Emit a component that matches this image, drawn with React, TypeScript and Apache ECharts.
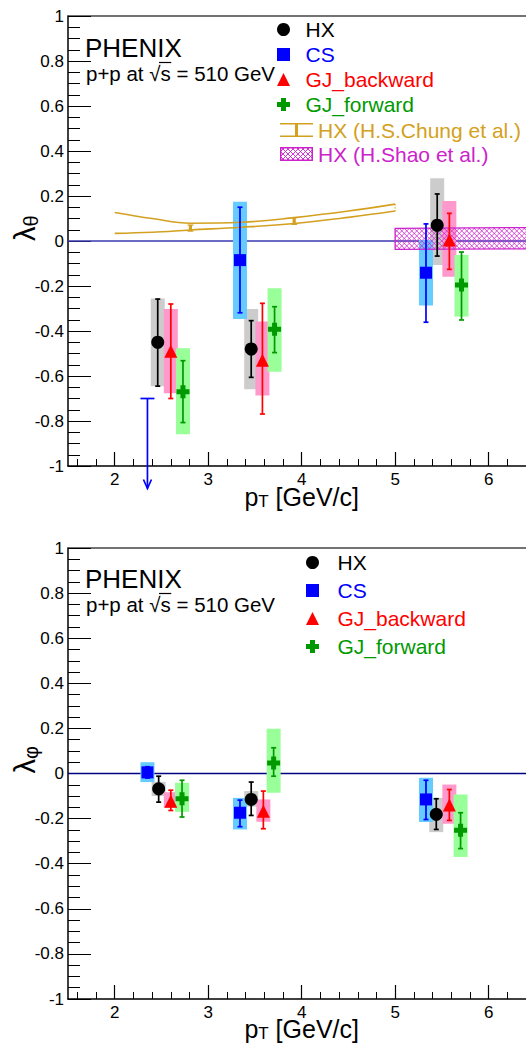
import React, { useEffect, useRef } from 'react';
import * as echarts from 'echarts';

// ---------- axis ranges ----------
const X_MIN = 1.5;
const X_MAX = 6.5;
const Y_MIN = -1;
const Y_MAX = 1;

// ---------- λθ panel (top) ----------
const thHX_x = [2.46, 3.46, 5.45];
const thHX_val = [-0.45, -0.48, 0.07];
const thHX_statLo = [-0.645, -0.606, -0.067];
const thHX_statHi = [-0.258, -0.354, 0.209];
const thHX_sysLo = [-0.645, -0.659, -0.107];
const thHX_sysHi = [-0.255, -0.302, 0.279];

const thCS_x = [3.34, 5.33];
const thCS_val = [-0.085, -0.141];
const thCS_statLo = [-0.319, -0.361];
const thCS_statHi = [0.15, 0.076];
const thCS_sysLo = [-0.347, -0.287];
const thCS_sysHi = [0.175, 0.005];
const thCS_limX = [2.35];
const thCS_limVal = [-0.7];
const thCS_limTip = [-1.1];

const thGJB_x = [2.6, 3.58, 5.58];
const thGJB_val = [-0.49, -0.53, 0.004];
const thGJB_statLo = [-0.7, -0.769, -0.126];
const thGJB_statHi = [-0.28, -0.277, 0.123];
const thGJB_sysLo = [-0.677, -0.687, -0.159];
const thGJB_sysHi = [-0.302, -0.358, 0.178];

const thGJF_x = [2.73, 3.71, 5.71];
const thGJF_val = [-0.67, -0.392, -0.196];
const thGJF_statLo = [-0.807, -0.496, -0.351];
const thGJF_statHi = [-0.532, -0.292, -0.049];
const thGJF_sysLo = [-0.859, -0.581, -0.336];
const thGJF_sysHi = [-0.477, -0.21, -0.062];

// H.S.Chung et al. band
const chungX = [2.0, 2.4, 2.81, 3.35, 3.92, 4.5, 5.0];
const chungHi = [0.127, 0.1, 0.079, 0.083, 0.104, 0.133, 0.164];
const chungLo = [0.034, 0.039, 0.049, 0.061, 0.078, 0.105, 0.133];
const chungBarX = [2.81, 3.92];
const chungBarLo = [0.044, 0.074];
const chungBarHi = [0.071, 0.104];

// H.Shao et al. band
const shaoX = [5.0, 6.5];
const shaoLo = [-0.037, -0.035];
const shaoHi = [0.056, 0.06];

// ---------- λφ panel (bottom) ----------
const phHX_x = [2.47, 3.46, 5.44];
const phHX_val = [-0.068, -0.115, -0.181];
const phHX_statLo = [-0.127, -0.186, -0.248];
const phHX_statHi = [-0.012, -0.038, -0.112];
const phHX_sysLo = [-0.1, -0.147, -0.26];
const phHX_sysHi = [-0.037, -0.078, -0.108];

const phCS_x = [2.35, 3.34, 5.33];
const phCS_val = [0.005, -0.174, -0.115];
const phCS_statLo = [-0.02, -0.236, -0.204];
const phCS_statHi = [0.03, -0.118, -0.03];
const phCS_sysLo = [-0.038, -0.248, -0.215];
const phCS_sysHi = [0.05, -0.108, -0.019];

const phGJB_x = [2.6, 3.59, 5.58];
const phGJB_val = [-0.123, -0.167, -0.14];
const phGJB_statLo = [-0.164, -0.245, -0.208];
const phGJB_statHi = [-0.074, -0.078, -0.071];
const phGJB_sysLo = [-0.152, -0.214, -0.223];
const phGJB_sysHi = [-0.083, -0.115, -0.049];

const phGJF_x = [2.72, 3.7, 5.7];
const phGJF_val = [-0.112, 0.047, -0.252];
const phGJF_statLo = [-0.193, -0.012, -0.333];
const phGJF_statHi = [-0.03, 0.114, -0.174];
const phGJF_sysLo = [-0.17, -0.085, -0.37];
const phGJF_sysHi = [-0.041, 0.199, -0.093];

// ---------- styles ----------
const FONT = 'Liberation Sans, Arial, Helvetica, sans-serif';
const C_HX = '#000000';
const C_CS = '#0000ff';
const C_GJB = '#ff0000';
const C_GJF = '#009900';
const B_HX = '#cccccc';
const B_CS = '#66ccff';
const B_GJB = '#ff99cc';
const B_GJF = '#99ff99';
const C_CHUNG = '#d4a020';
const C_SHAO = '#cc22cc';
const SQUARE = 'path://M0,0H12V12H0Z';
const TRIANGLE = 'path://M6,0L12,12H0Z';
const CROSS = 'path://M4,0H9V4H13V9H9V13H4V9H0V4H4Z';
const BOX_HALF_PX = 7;

const zip3 = (a: number[], b: number[], c: number[]) => a.map((v, i) => [v, b[i], c[i]]);
const zip2 = (a: number[], b: number[]) => a.map((v, i) => [v, b[i]]);

function boxSeries(name: string, xi: number, x: number[], lo: number[], hi: number[], color: string) {
  return {
    type: 'custom', name, xAxisIndex: xi, yAxisIndex: xi === 0 ? 0 : 2, z: 2,
    data: zip3(x, lo, hi),
    encode: { x: 0, y: [1, 2] },
    renderItem: (params: any, api: any) => {
      const a = api.coord([api.value(0), api.value(2)]);
      const b = api.coord([api.value(0), api.value(1)]);
      return {
        type: 'rect',
        shape: { x: a[0] - BOX_HALF_PX, y: a[1], width: BOX_HALF_PX * 2, height: b[1] - a[1] },
        style: { fill: color },
      };
    },
  };
}

function errSeries(name: string, xi: number, x: number[], lo: number[], hi: number[], color: string) {
  return {
    type: 'custom', name, xAxisIndex: xi, yAxisIndex: xi === 0 ? 0 : 2, z: 4,
    data: zip3(x, lo, hi),
    encode: { x: 0, y: [1, 2] },
    renderItem: (params: any, api: any) => {
      const a = api.coord([api.value(0), api.value(2)]);
      const b = api.coord([api.value(0), api.value(1)]);
      const st = { stroke: color, lineWidth: 1.7 };
      return {
        type: 'group',
        children: [
          { type: 'line', shape: { x1: a[0], y1: a[1], x2: b[0], y2: b[1] }, style: st },
          { type: 'line', shape: { x1: a[0] - 2.5, y1: a[1], x2: a[0] + 2.5, y2: a[1] }, style: st },
          { type: 'line', shape: { x1: b[0] - 2.5, y1: b[1], x2: b[0] + 2.5, y2: b[1] }, style: st },
        ],
      };
    },
  };
}

function markerSeries(name: string, xi: number, x: number[], v: number[], color: string, symbol: string, size: number) {
  return {
    type: 'scatter', name, xAxisIndex: xi, yAxisIndex: xi === 0 ? 0 : 2, z: 5,
    symbol, symbolSize: size, symbolKeepAspect: true,
    itemStyle: { color, opacity: 1 },
    data: zip2(x, v),
  };
}

function zeroSeries(xi: number, color: string) {
  return {
    type: 'line', name: 'zero' + xi, xAxisIndex: xi, yAxisIndex: xi === 0 ? 0 : 2, z: 1,
    showSymbol: false, silent: true,
    lineStyle: { color, width: 1.3 },
    data: [[X_MIN, 0], [X_MAX, 0]],
  };
}

// clip a segment to a convex polygon (Cyrus-Beck)
function clipSeg(p0: number[], p1: number[], poly: number[][]) {
  let t0 = 0, t1 = 1;
  const cx = poly.reduce((s, p) => s + p[0], 0) / poly.length;
  const cy = poly.reduce((s, p) => s + p[1], 0) / poly.length;
  const dx = p1[0] - p0[0], dy = p1[1] - p0[1];
  for (let i = 0; i < poly.length; i++) {
    const a = poly[i], b = poly[(i + 1) % poly.length];
    let nx = -(b[1] - a[1]), ny = b[0] - a[0];
    if (nx * (cx - a[0]) + ny * (cy - a[1]) < 0) { nx = -nx; ny = -ny; }
    const num = nx * (p0[0] - a[0]) + ny * (p0[1] - a[1]);
    const den = nx * dx + ny * dy;
    if (Math.abs(den) < 1e-9) { if (num < 0) return null; continue; }
    const t = -num / den;
    if (den > 0) t0 = Math.max(t0, t); else t1 = Math.min(t1, t);
    if (t0 > t1) return null;
  }
  return [p0[0] + t0 * dx, p0[1] + t0 * dy, p0[0] + t1 * dx, p0[1] + t1 * dy];
}

function makeHatchIcon(w: number, h: number, color: string) {
  const c = document.createElement('canvas');
  c.width = w; c.height = h;
  const g = c.getContext('2d');
  if (!g) return '';
  g.strokeStyle = color; g.lineWidth = 0.9;
  for (let k = -h; k < w + h; k += 5) {
    g.beginPath(); g.moveTo(k, 0); g.lineTo(k + h, h); g.stroke();
    g.beginPath(); g.moveTo(k + h, 0); g.lineTo(k, h); g.stroke();
  }
  g.lineWidth = 1.5;
  g.strokeRect(0.75, 0.75, w - 1.5, h - 1.5);
  return c.toDataURL();
}

function measure(text: string, size: number) {
  const c = document.createElement('canvas');
  const g = c.getContext('2d');
  if (!g) return text.length * size * 0.5;
  g.font = `${size}px ${FONT}`;
  return g.measureText(text).width;
}

function buildOption() {
  const hatchIcon = makeHatchIcon(33, 14, C_SHAO);
  const gridW = 467.35;
  const pxPerUnit = gridW / (X_MAX - X_MIN);
  const tickGridLeft = 68 + 0.1 * pxPerUnit;
  const tickGridW = 4.8 * pxPerUnit;

  const xName = '{a|p}{b|T}{a| [GeV/c]}';
  const xNameStyle = {
    color: '#000', fontFamily: FONT,
    rich: {
      a: { fontSize: 25, lineHeight: 26, fontFamily: FONT, color: '#000' },
      b: { fontSize: 17, fontFamily: FONT, color: '#000', verticalAlign: 'bottom' },
    },
  };
  const yNameStyle = {
    color: '#000', fontFamily: FONT, align: 'left',
    rich: {
      a: { fontSize: 29, lineHeight: 32, fontFamily: FONT, color: '#000' },
      b: { fontSize: 20, fontFamily: FONT, color: '#000', verticalAlign: 'bottom' },
    },
  };

  const mainX = (gridIndex: number, gap: number) => ({
    type: 'value', gridIndex, min: X_MIN, max: X_MAX, position: 'bottom',
    name: xName, nameLocation: 'middle', nameGap: gap, nameMoveOverlap: false, nameTextStyle: xNameStyle,
    axisLine: { show: true, onZero: false, lineStyle: { color: '#000', width: 1.5 } },
    axisTick: { show: true, inside: true, length: 14, lineStyle: { color: '#000', width: 1.2 } },
    axisLabel: { show: true, color: '#000', fontSize: 17, margin: 5, fontFamily: FONT, showMinLabel: false, showMaxLabel: false },
    splitLine: { show: false },
  });
  const frameX = (gridIndex: number) => ({
    type: 'value', gridIndex, min: X_MIN, max: X_MAX, position: 'top',
    axisLine: { show: true, onZero: false, lineStyle: { color: '#444', width: 1.5 } },
    axisTick: { show: false }, axisLabel: { show: false }, splitLine: { show: false },
  });
  const minorX = (gridIndex: number) => ({
    type: 'value', gridIndex, min: 1.6, max: 6.4, interval: 0.2, position: 'bottom',
    axisLine: { show: false, onZero: false },
    axisTick: { show: true, inside: true, length: 7, lineStyle: { color: '#000', width: 1 } },
    axisLabel: { show: false }, splitLine: { show: false },
  });
  const mainY = (gridIndex: number, sub: string) => ({
    type: 'value', gridIndex, min: Y_MIN, max: Y_MAX, interval: 0.2,
    name: `{a|\u03BB}{b|${sub}}`, nameLocation: 'middle', nameRotate: 90, nameGap: 27, nameMoveOverlap: false,
    nameTextStyle: yNameStyle,
    axisLine: { show: true, onZero: false, lineStyle: { color: '#000', width: 1.5 } },
    axisTick: { show: true, inside: true, length: 23, lineStyle: { color: '#000', width: 1 } },
    minorTick: { show: true, splitNumber: 4, length: 12, lineStyle: { color: '#000', width: 1 } },
    axisLabel: { show: true, color: '#000', fontSize: 17, margin: 4, fontFamily: FONT },
    splitLine: { show: false }, minorSplitLine: { show: false },
  });
  const hiddenY = (gridIndex: number) => ({ type: 'value', gridIndex, min: Y_MIN, max: Y_MAX, show: false });

  const series: any[] = [
    // ---- top ----
    zeroSeries(0, '#3838b0'),
    boxSeries('HX sys', 0, thHX_x, thHX_sysLo, thHX_sysHi, B_HX),
    boxSeries('CS sys', 0, thCS_x, thCS_sysLo, thCS_sysHi, B_CS),
    boxSeries('GJ_backward sys', 0, thGJB_x, thGJB_sysLo, thGJB_sysHi, B_GJB),
    boxSeries('GJ_forward sys', 0, thGJF_x, thGJF_sysLo, thGJF_sysHi, B_GJF),
    {
      type: 'custom', name: 'HX (H.Shao et al.)', xAxisIndex: 0, yAxisIndex: 0, z: 3,
      data: [[shaoX[0], shaoX[1], shaoLo[0], shaoHi[0], shaoLo[1], shaoHi[1]]],
      encode: { x: [0, 1], y: [2, 3, 4, 5] },
      renderItem: (params: any, api: any) => {
        const x0 = api.value(0), x1 = api.value(1);
        const poly = [
          api.coord([x0, api.value(3)]), api.coord([x1, api.value(5)]),
          api.coord([x1, api.value(4)]), api.coord([x0, api.value(2)]),
        ];
        const xs = poly.map((p) => p[0]), ys = poly.map((p) => p[1]);
        const minX = Math.min(...xs), maxX = Math.max(...xs), minY = Math.min(...ys), maxY = Math.max(...ys);
        const children: any[] = [];
        const hs = { stroke: C_SHAO, lineWidth: 0.8 };
        const H = maxY - minY;
        for (let k = minX - H; k < maxX + H; k += 5) {
          const s1 = clipSeg([k, minY], [k + H, maxY], poly);
          if (s1) children.push({ type: 'line', shape: { x1: s1[0], y1: s1[1], x2: s1[2], y2: s1[3] }, style: hs });
          const s2 = clipSeg([k + H, minY], [k, maxY], poly);
          if (s2) children.push({ type: 'line', shape: { x1: s2[0], y1: s2[1], x2: s2[2], y2: s2[3] }, style: hs });
        }
        children.push({ type: 'polygon', shape: { points: poly }, style: { fill: 'none', stroke: C_SHAO, lineWidth: 1.3 } });
        return { type: 'group', children };
      },
    },
    {
      type: 'line', name: 'Chung upper', xAxisIndex: 0, yAxisIndex: 0, z: 3, smooth: 0.4,
      showSymbol: false, silent: true, lineStyle: { color: C_CHUNG, width: 1.6 },
      data: zip2(chungX, chungHi),
    },
    {
      type: 'line', name: 'Chung lower', xAxisIndex: 0, yAxisIndex: 0, z: 3, smooth: 0.4,
      showSymbol: false, silent: true, lineStyle: { color: C_CHUNG, width: 1.6 },
      data: zip2(chungX, chungLo),
    },
    {
      type: 'custom', name: 'Chung edge', xAxisIndex: 0, yAxisIndex: 0, z: 3,
      data: [[chungX[chungX.length - 1], chungLo[chungLo.length - 1], chungHi[chungHi.length - 1]]],
      encode: { x: 0, y: [1, 2] },
      renderItem: (params: any, api: any) => {
        const a = api.coord([api.value(0), api.value(2)]);
        const b = api.coord([api.value(0), api.value(1)]);
        return { type: 'line', shape: { x1: a[0], y1: a[1], x2: b[0], y2: b[1] }, style: { stroke: C_CHUNG, lineWidth: 1, lineDash: [1.5, 1.5] } };
      },
    },
    {
      type: 'custom', name: 'HX (H.S.Chung et al.)', xAxisIndex: 0, yAxisIndex: 0, z: 3,
      data: zip3(chungBarX, chungBarLo, chungBarHi),
      encode: { x: 0, y: [1, 2] },
      renderItem: (params: any, api: any) => {
        const a = api.coord([api.value(0), api.value(2)]);
        const b = api.coord([api.value(0), api.value(1)]);
        return {
          type: 'group',
          children: [
            { type: 'rect', shape: { x: a[0] - 1.6, y: a[1], width: 3.2, height: b[1] - a[1] }, style: { fill: C_CHUNG } },
            { type: 'line', shape: { x1: a[0] - 3, y1: a[1], x2: a[0] + 3, y2: a[1] }, style: { stroke: C_CHUNG, lineWidth: 1.2 } },
            { type: 'line', shape: { x1: b[0] - 3, y1: b[1], x2: b[0] + 3, y2: b[1] }, style: { stroke: C_CHUNG, lineWidth: 1.2 } },
          ],
        };
      },
    },
    errSeries('HX stat', 0, thHX_x, thHX_statLo, thHX_statHi, C_HX),
    errSeries('CS stat', 0, thCS_x, thCS_statLo, thCS_statHi, C_CS),
    errSeries('GJ_backward stat', 0, thGJB_x, thGJB_statLo, thGJB_statHi, C_GJB),
    errSeries('GJ_forward stat', 0, thGJF_x, thGJF_statLo, thGJF_statHi, C_GJF),
    {
      type: 'custom', name: 'CS upper limit', xAxisIndex: 0, yAxisIndex: 0, z: 4,
      data: zip3(thCS_limX, thCS_limVal, thCS_limTip),
      encode: { x: 0, y: [1, 2] },
      renderItem: (params: any, api: any) => {
        const a = api.coord([api.value(0), api.value(1)]);
        const b = api.coord([api.value(0), api.value(2)]);
        const st = { stroke: C_CS, lineWidth: 1.7 };
        return {
          type: 'group',
          children: [
            { type: 'line', shape: { x1: a[0] - 7, y1: a[1], x2: a[0] + 7, y2: a[1] }, style: st },
            { type: 'line', shape: { x1: a[0], y1: a[1], x2: b[0], y2: b[1] }, style: st },
            { type: 'polyline', shape: { points: [[b[0] - 4, b[1] - 9], [b[0], b[1]], [b[0] + 4, b[1] - 9]] }, style: { ...st, fill: 'none' } },
          ],
        };
      },
    },
    markerSeries('HX', 0, thHX_x, thHX_val, C_HX, 'circle', 13),
    markerSeries('CS', 0, thCS_x, thCS_val, C_CS, SQUARE, 12),
    markerSeries('GJ_backward', 0, thGJB_x, thGJB_val, C_GJB, TRIANGLE, 13),
    markerSeries('GJ_forward', 0, thGJF_x, thGJF_val, C_GJF, CROSS, 13),

    // ---- bottom ----
    zeroSeries(3, '#000080'),
    boxSeries('HX sys', 3, phHX_x, phHX_sysLo, phHX_sysHi, B_HX),
    boxSeries('CS sys', 3, phCS_x, phCS_sysLo, phCS_sysHi, B_CS),
    boxSeries('GJ_backward sys', 3, phGJB_x, phGJB_sysLo, phGJB_sysHi, B_GJB),
    boxSeries('GJ_forward sys', 3, phGJF_x, phGJF_sysLo, phGJF_sysHi, B_GJF),
    errSeries('HX stat', 3, phHX_x, phHX_statLo, phHX_statHi, C_HX),
    errSeries('CS stat', 3, phCS_x, phCS_statLo, phCS_statHi, C_CS),
    errSeries('GJ_backward stat', 3, phGJB_x, phGJB_statLo, phGJB_statHi, C_GJB),
    errSeries('GJ_forward stat', 3, phGJF_x, phGJF_statLo, phGJF_statHi, C_GJF),
    markerSeries('HX', 3, phHX_x, phHX_val, C_HX, 'circle', 13),
    markerSeries('CS', 3, phCS_x, phCS_val, C_CS, SQUARE, 12),
    markerSeries('GJ_backward', 3, phGJB_x, phGJB_val, C_GJB, TRIANGLE, 13),
    markerSeries('GJ_forward', 3, phGJF_x, phGJF_val, C_GJF, CROSS, 13),
  ];

  const legendText = { fontSize: 21, lineHeight: 21, fontFamily: FONT };
  const markerLegendData = [
    { name: 'HX', textStyle: { color: C_HX } },
    { name: 'CS', textStyle: { color: C_CS } },
    { name: 'GJ_backward', textStyle: { color: C_GJB } },
    { name: 'GJ_forward', textStyle: { color: C_GJF } },
  ];

  const SUB_SIZE = 20.5;
  const SUB_X = 86;
  const SUB_TEXT = 'p+p at \u221As = 510 GeV';
  const preW = measure('p+p at \u221A', SUB_SIZE);
  const sW = measure('s', SUB_SIZE);

  const txt = (text: string, x: number, y: number, fontSize: number) => ({
    type: 'text', x, y, z: 100, silent: true,
    style: { text, fontSize, fontFamily: FONT, fill: '#000', align: 'left', verticalAlign: 'middle' },
  });

  const graphic: any[] = [];
  [0, 531].forEach((dy) => {
    graphic.push(txt('PHENIX', 85, 47.5 + dy, 26));
    graphic.push(txt(SUB_TEXT, SUB_X, 73.5 + dy, SUB_SIZE));
    graphic.push({
      type: 'line', z: 100, silent: true,
      shape: { x1: SUB_X + preW - 1.5, y1: 62.5 + dy, x2: SUB_X + preW + sW + 0.5, y2: 62.5 + dy },
      style: { stroke: '#000', lineWidth: 1.2 },
    });
  });

  const gridBase = { outerBoundsMode: 'none', containLabel: false };

  return {
    animation: false,
    backgroundColor: '#ffffff',
    grid: [
      { ...gridBase, left: 68, top: 16, width: gridW, height: 450 },
      { ...gridBase, left: tickGridLeft, top: 16, width: tickGridW, height: 450 },
      { ...gridBase, left: 68, top: 548, width: gridW, height: 451 },
      { ...gridBase, left: tickGridLeft, top: 548, width: tickGridW, height: 451 },
    ],
    xAxis: [mainX(0, 18), minorX(1), frameX(0), mainX(2, 17), minorX(3), frameX(2)],
    yAxis: [mainY(0, '\u03B8'), hiddenY(1), mainY(2, '\u03C6'), hiddenY(3)],
    legend: [
      {
        orient: 'vertical', left: 277, top: 19, itemWidth: 34, itemHeight: 13, itemGap: 4, padding: 0,
        symbolKeepAspect: true, selectedMode: false, textStyle: legendText, data: markerLegendData,
      },
      {
        orient: 'vertical', left: 280, top: 119.5, itemWidth: 33, itemHeight: 14, itemGap: 3, padding: 0,
        symbolKeepAspect: true, selectedMode: false, textStyle: legendText,
        data: [
          {
            name: 'HX (H.S.Chung et al.)',
            icon: 'path://M0,0H33V1.6H0Z M0,12.4H33V14H0Z M15,1.6H18V12.4H15Z',
            itemStyle: { color: C_CHUNG },
            textStyle: { color: C_CHUNG },
          },
          {
            name: 'HX (H.Shao et al.)',
            icon: 'image://' + hatchIcon,
            textStyle: { color: C_SHAO },
          },
        ],
      },
      {
        orient: 'vertical', left: 306, top: 552, itemWidth: 40, itemHeight: 13, itemGap: 7, padding: 0,
        symbolKeepAspect: true, selectedMode: false, textStyle: legendText, data: markerLegendData,
      },
    ],
    graphic,
    series,
  };
}

export default function App() {
  const ref = useRef<HTMLDivElement>(null);
  useEffect(() => {
    if (!ref.current) return;
    const chart = echarts.init(ref.current, undefined, { renderer: 'svg' });
    chart.setOption(buildOption() as any);
    return () => chart.dispose();
  }, []);
  return (
    <div
      ref={ref}
      style={{ position: 'absolute', left: 0, top: 0, width: 526, height: 1047, background: '#fff' }}
    />
  );
}
